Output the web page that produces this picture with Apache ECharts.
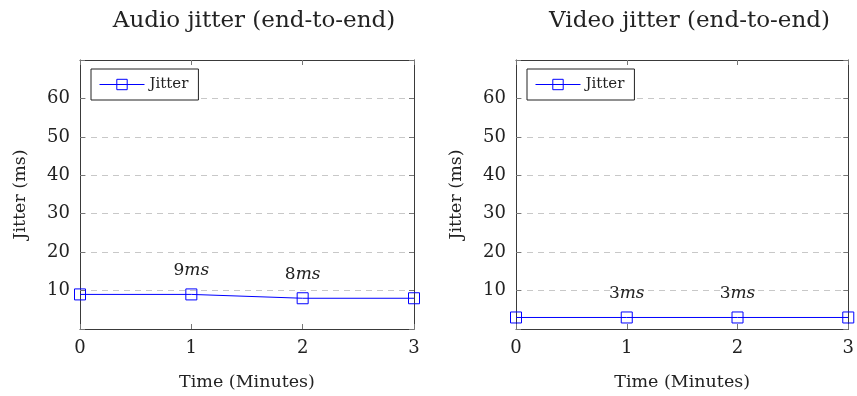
<!DOCTYPE html>
<html>
<head>
<meta charset="utf-8">
<script src="https://cdn.jsdelivr.net/npm/echarts@6/dist/echarts.min.js"></script>
<style>html,body{margin:0;padding:0;background:#fff}#c{width:857px;height:396px}</style>
</head>
<body>
<div id="c"></div>
<script>
var minutes = [0, 1, 2, 3];
var audioJitter = [9, 9, 8, 8];
var videoJitter = [3, 3, 3, 3];
var labeledIdx = [1, 2];
var titles = ['Audio jitter (end-to-end)', 'Video jitter (end-to-end)'];
var yTicks = [10, 20, 30, 40, 50, 60];

var FONT = 'DejaVu Serif';
var BLUE = '#0000ff';
var AXC = '#3a3a3a';

function pts(vals) {
  return vals.map(function (v, i) {
    var item = { value: [minutes[i], v] };
    if (labeledIdx.indexOf(i) >= 0) {
      item.label = { show: true };
    }
    return item;
  });
}

var grids = [
  { left: 80, right: 443, top: 60, bottom: 65 },
  { left: 516, right: 8, top: 60, bottom: 65 }
];

var xAxes = [], yAxes = [], series = [], titleOpts = [], legends = [];
[audioJitter, videoJitter].forEach(function (vals, g) {
  xAxes.push({
    type: 'value', gridIndex: g, min: 0, max: 3, interval: 1, position: 'bottom',
    name: 'Time (Minutes)', nameLocation: 'middle', nameGap: 44,
    nameTextStyle: { fontFamily: FONT, fontSize: 17.5, color: '#222' },
    axisLine: { show: true, onZero: false, lineStyle: { color: AXC, width: 1 } },
    axisTick: { show: true, inside: true, length: 5, lineStyle: { color: '#777' } },
    axisLabel: { fontFamily: FONT, fontSize: 18, color: '#222', margin: 10 },
    splitLine: { show: false }
  });
  xAxes.push({
    type: 'value', gridIndex: g, min: 0, max: 3, interval: 1, position: 'top',
    axisLine: { show: true, onZero: false, lineStyle: { color: AXC, width: 1 } },
    axisTick: { show: true, inside: true, length: 5, lineStyle: { color: '#777' } },
    axisLabel: { show: false }, splitLine: { show: false }
  });
  yAxes.push({
    type: 'value', gridIndex: g, min: 0, max: 70, interval: 10, position: 'left',
    name: 'Jitter (ms)', nameLocation: 'middle', nameGap: 51,
    nameTextStyle: { fontFamily: FONT, fontSize: 17.5, color: '#222' },
    axisLine: { show: true, onZero: false, lineStyle: { color: AXC, width: 1 } },
    axisTick: { show: true, inside: true, length: 5, lineStyle: { color: '#777' } },
    axisLabel: {
      fontFamily: FONT, fontSize: 18, color: '#222', margin: 10,
      formatter: function (v) { return yTicks.indexOf(v) >= 0 ? String(v) : ''; }
    },
    splitLine: { show: true, lineStyle: { color: '#c8c8c8', type: [6, 5], width: 1 } }
  });
  yAxes.push({
    type: 'value', gridIndex: g, min: 0, max: 70, interval: 10, position: 'right',
    axisLine: { show: true, onZero: false, lineStyle: { color: AXC, width: 1 } },
    axisTick: { show: true, inside: true, length: 5, lineStyle: { color: '#777' } },
    axisLabel: { show: false }, splitLine: { show: false }
  });
  series.push({
    type: 'line', name: 'Jitter', xAxisIndex: g * 2, yAxisIndex: g * 2,
    color: BLUE,
    data: pts(vals),
    symbol: 'rect', symbolSize: 11,
    lineStyle: { color: BLUE, width: 1 },
    itemStyle: { color: 'rgba(255,255,255,0)', borderColor: BLUE, borderWidth: 1 },
    label: {
      show: false, position: 'top', distance: 9,
      formatter: function (p) { return '{n|' + p.value[1] + '}{u|ms}'; },
      rich: {
        n: { fontFamily: FONT, fontSize: 17, color: '#222' },
        u: { fontFamily: FONT, fontSize: 17, fontStyle: 'italic', color: '#222' }
      }
    },
    z: 5,
    animation: false
  });
  var gl = g === 0 ? 80 : 516;
  var gw = g === 0 ? 334 : 333;
  titleOpts.push({
    text: titles[g], left: gl + gw / 2 + 2, top: 5, textAlign: 'center',
    textStyle: { fontFamily: FONT, fontSize: 23, fontWeight: 'normal', color: '#222' }
  });
  legends.push({
    left: gl + 11, top: 69, orient: 'vertical',
    data: [{ name: 'Jitter' }],
    itemWidth: 45, itemHeight: 13, itemGap: 4,
    padding: [8, 10, 8, 8],
    borderColor: '#222', borderWidth: 1, borderRadius: 0,
    backgroundColor: '#fff',
    itemStyle: { color: 'rgba(255,255,255,0)', borderColor: BLUE, borderWidth: 1 },
    lineStyle: { color: BLUE, width: 1 },
    textStyle: { fontFamily: FONT, fontSize: 15, color: '#222' },
    selectedMode: false
  });
});

var chart = echarts.init(document.getElementById('c'), null, { renderer: 'canvas' });
chart.setOption({
  animation: false,
  backgroundColor: '#fff',
  title: titleOpts,
  legend: legends,
  grid: grids,
  xAxis: xAxes,
  yAxis: yAxes,
  series: series
});
</script>
</body>
</html>
